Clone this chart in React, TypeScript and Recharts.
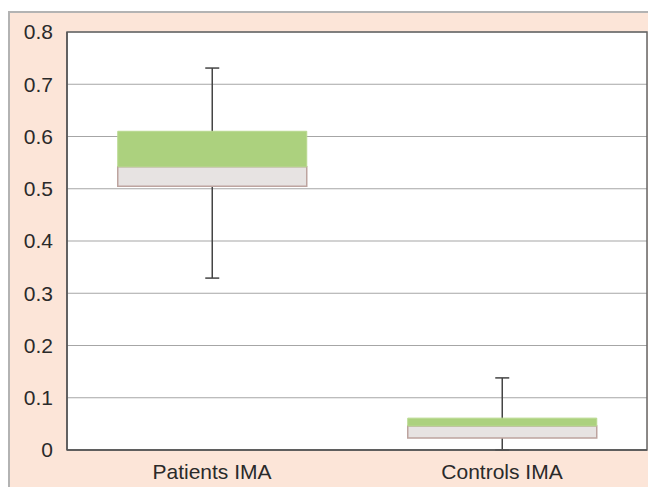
import React from 'react';
import { ComposedChart, Bar, XAxis, YAxis, CartesianGrid, ReferenceArea } from 'recharts';

const categories = ['Patients IMA', 'Controls IMA'];
const minValues = [0.329, 0];
const q1Values = [0.505, 0.023];
const medianValues = [0.542, 0.046];
const q3Values = [0.61, 0.061];
const maxValues = [0.731, 0.138];
const yTicks = [0, 0.1, 0.2, 0.3, 0.4, 0.5, 0.6, 0.7, 0.8];

const data = categories.map((name, i) => ({
  name,
  min: minValues[i],
  whiskerSpan: maxValues[i] - minValues[i],
  q1: q1Values[i],
  lowerBox: medianValues[i] - q1Values[i],
  upperBox: q3Values[i] - medianValues[i],
}));

const WhiskerShape = (props: any) => {
  const { x, y, width, height } = props;
  const cx = x + width / 2;
  const cap = 7;
  return (
    <g stroke="#444" strokeWidth={1.5}>
      <line x1={cx} x2={cx} y1={y} y2={y + height} />
      <line x1={cx - cap} x2={cx + cap} y1={y} y2={y} />
      <line x1={cx - cap} x2={cx + cap} y1={y + height} y2={y + height} />
    </g>
  );
};

export default function App() {
  return (
    <div
      style={{
        position: 'fixed',
        left: 8,
        top: 11,
        width: 638,
        height: 474,
        background: '#fce5d8',
        borderTop: '2px solid #b3b3b3',
        borderLeft: '2px solid #b3b3b3',
        fontFamily: '"Liberation Sans", Arial, sans-serif',
      }}
    >
      <ComposedChart
        width={638}
        height={474}
        data={data}
        margin={{ top: 19, right: 1, bottom: 0, left: 0 }}
        barCategoryGap="17.5%"
      >
        <CartesianGrid horizontal vertical={false} stroke="#a6a6a6" fill="#ffffff" strokeWidth={1.2} />
        <XAxis
          xAxisId="main"
          dataKey="name"
          type="category"
          height={37}
          tickLine={false}
          tickSize={0}
          tickMargin={14}
          axisLine={{ stroke: '#555', strokeWidth: 1.5 }}
          tick={{ fill: '#2a2a2a', fontSize: 21 }}
        />
        <XAxis xAxisId="w" dataKey="name" type="category" hide />
        <YAxis
          domain={[0, 0.8]}
          ticks={yTicks}
          interval={0}
          width={57}
          tickLine={false}
          tickSize={0}
          tickMargin={14}
          axisLine={{ stroke: '#555', strokeWidth: 1.5 }}
          tick={{ fill: '#2a2a2a', fontSize: 21 }}
          tickFormatter={(v: number) => String(v)}
        />
        <Bar xAxisId="w" dataKey="min" stackId="w" fill="transparent" isAnimationActive={false} />
        <Bar xAxisId="w" dataKey="whiskerSpan" stackId="w" shape={<WhiskerShape />} isAnimationActive={false} />
        <Bar xAxisId="main" dataKey="q1" stackId="b" fill="transparent" isAnimationActive={false} />
        <Bar
          xAxisId="main"
          dataKey="lowerBox"
          stackId="b"
          fill="#e7e3e2"
          stroke="#bda49f"
          strokeWidth={1.5}
          isAnimationActive={false}
        />
        <Bar
          xAxisId="main"
          dataKey="upperBox"
          stackId="b"
          fill="#acd17e"
          stroke="#b8d98f"
          strokeWidth={1}
          isAnimationActive={false}
        />
        <ReferenceArea xAxisId="main" y1={0} y2={0.8} fill="none" stroke="#666" strokeWidth={1.5} fillOpacity={0} />
      </ComposedChart>
    </div>
  );
}
